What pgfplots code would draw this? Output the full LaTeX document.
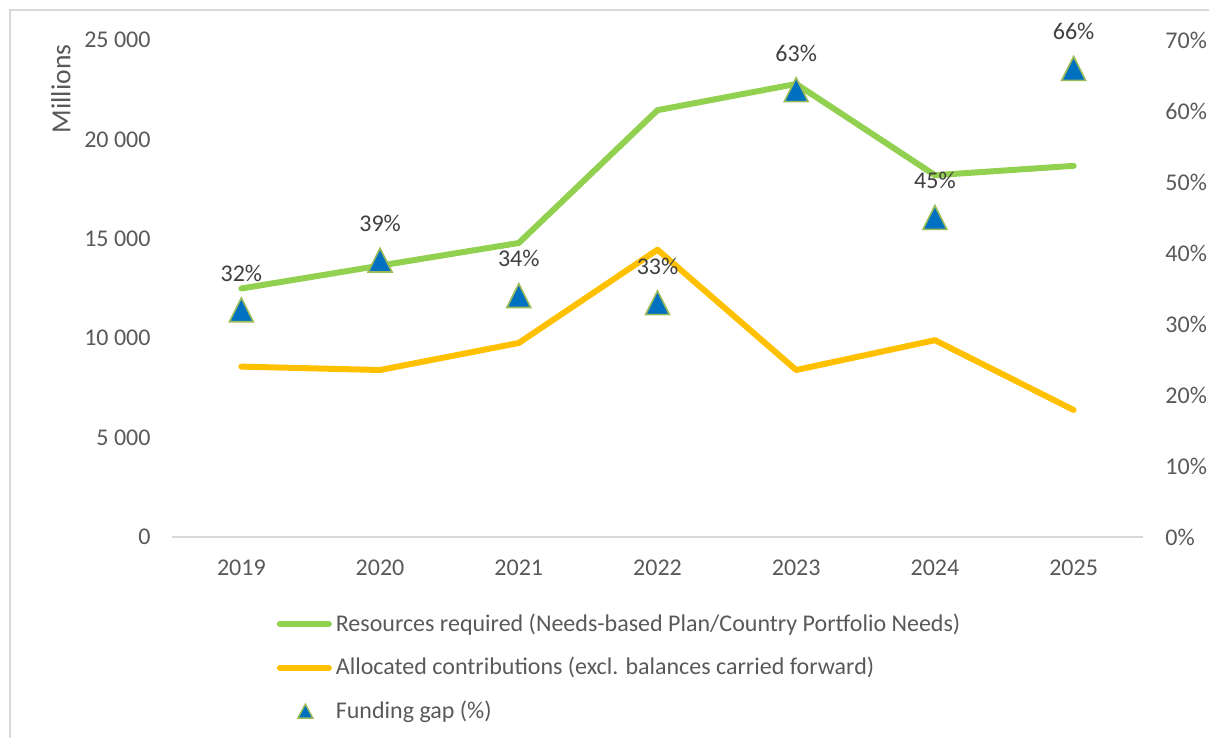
\documentclass[border=0pt]{standalone}
\usepackage{fontspec}
\setmainfont{Carlito}
\usepackage{pgfplots}
\pgfplotsset{compat=1.18}
\definecolor{lgreen}{HTML}{92D050}
\definecolor{gold}{HTML}{FFC000}
\definecolor{tblue}{HTML}{0070C0}
\definecolor{tedge}{HTML}{9BBB59}
\definecolor{txt}{HTML}{595959}
\definecolor{lbl}{HTML}{404040}
\definecolor{framec}{HTML}{D9D9D9}
\pgfplotstableread{
x res alloc
0 12500 8570
1 13650 8400
2 14790 9760
3 21470 14450
4 22790 8400
5 18200 9900
6 18670 6390
}\lines
\pgfplotstableread{
x gap
0 32
1 39
2 34
3 33
4 63
5 45
6 66
}\gaps
\begin{document}
\begin{tikzpicture}[x=1pt,y=1pt]
\path[use as bounding box] (0,0) rectangle (604.5,369);
\draw[framec, line width=1pt] (5,0) -- (5,364) -- (604.5,364);
\node[rotate=90, text=txt, font=\fontsize{13.8}{15}\selectfont] at (30.5,324.5) {Millions};
\begin{axis}[
  at={(86pt,100.5pt)}, anchor=south west,
  scale only axis, width=485.5pt, height=248.5pt,
  xmin=-0.5, xmax=6.5, ymin=0, ymax=25000,
  xtick={0,1,2,3,4,5,6},
  xticklabels={2019,2020,2021,2022,2023,2024,2025},
  ytick={0,5000,10000,15000,20000,25000},
  scaled y ticks=false,
  yticklabel style={xshift=-7.2pt, /pgf/number format/1000 sep={\ }, /pgf/number format/assume math mode=true},
  axis x line*=bottom, axis y line*=left,
  x axis line style={framec, line width=1pt, -},
  y axis line style={draw=none},
  major tick length=0pt,
  tick label style={font=\fontsize{12}{14}\selectfont, text=txt},
  xticklabel style={yshift=-7.8pt},
  clip=false,
  legend style={at={(0.108,-0.146)}, anchor=north west, draw=none, fill=none,
    inner sep=0pt, outer sep=0pt, row sep=7.6pt,
    font=\fontsize{12}{14}\selectfont, text=txt},
  legend cell align=left,
  legend image code/.code={\draw[#1] (1.5pt,0pt) -- (26pt,0pt);},
]
\addplot[lgreen, line width=3pt, line join=round, line cap=round] table[x=x, y=res] {\lines};
\addlegendentry{Resources required (Needs-based Plan/Country Portfolio Needs)}
\addplot[gold, line width=3pt, line join=round, line cap=round] table[x=x, y=alloc] {\lines};
\addlegendentry{Allocated contributions (excl. balances carried forward)}
\addlegendimage{legend image code/.code={\draw[fill=tblue, draw=tedge, line width=0.7pt] (10.5pt,-3.4pt) -- (14.25pt,3.6pt) -- (18pt,-3.4pt) -- cycle;}}
\addlegendentry{Funding gap (\%)}
\end{axis}
\begin{axis}[
  at={(86pt,100.5pt)}, anchor=south west,
  scale only axis, width=485.5pt, height=248.5pt,
  xmin=-0.5, xmax=6.5, ymin=0, ymax=70,
  axis x line=none, axis y line*=right,
  y axis line style={draw=none},
  ytick={0,10,20,30,40,50,60,70},
  yticklabel={\pgfmathprintnumber{\tick}\%},
  yticklabel style={xshift=7.7pt, /pgf/number format/assume math mode=true},
  major tick length=0pt,
  tick label style={font=\fontsize{12}{14}\selectfont, text=txt},
  clip=false,
]
\addplot[only marks, mark=triangle*, mark size=6.9pt,
  mark options={fill=tblue, draw=tedge, line width=0.8pt, yshift=-2pt, yscale=1.15},
  point meta=y,
  nodes near coords={\pgfmathprintnumber{\pgfplotspointmeta}\%},
  nodes near coords style={anchor=south, yshift=12.5pt, text=lbl,
    font=\fontsize{12}{14}\selectfont, /pgf/number format/assume math mode=true},
] table[x=x, y=gap] {\gaps};
\end{axis}
\end{tikzpicture}
\end{document}
